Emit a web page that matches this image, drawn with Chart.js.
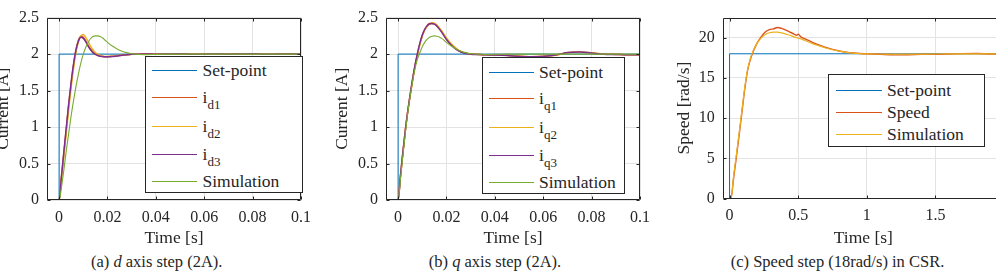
<!DOCTYPE html>
<html>
<head>
<meta charset="utf-8">
<script src="https://cdn.jsdelivr.net/npm/chart.js@4/dist/chart.umd.min.js"></script>
<style>
  html,body{margin:0;padding:0;background:#fff;}
  body{width:996px;height:272px;overflow:hidden;position:relative;font-family:'Liberation Serif',serif;color:#262626;}
  canvas{position:absolute;top:0;}
  .legend{position:absolute;box-sizing:border-box;border:1px solid #262626;background:#fff;}
  .row{position:absolute;left:0;height:20px;width:100%;}
  .sw{position:absolute;height:1px;}
  .lt{position:absolute;top:0;line-height:20px;font-size:17.5px;white-space:nowrap;font-family:'Liberation Serif',serif;}
  .lt sub{font-size:13px;vertical-align:-6px;line-height:0;}
  .cap{position:absolute;top:254px;font-size:16.5px;line-height:16.5px;white-space:nowrap;transform:translateX(-50%);font-family:'Liberation Serif',serif;}
</style>
</head>
<body>
<script>
// ---------------- data ----------------
// (a) d-axis step
const timeA = [-0.005,0,0.001,0.002,0.003,0.004,0.005,0.006,0.007,0.008,0.009,0.010,0.011,0.012,0.013,0.014,0.015,0.016,0.017,0.018,0.019,0.020,0.022,0.024,0.026,0.028,0.030,0.033,0.036,0.040,0.045,0.050,0.055,0.060,0.065,0.070,0.075,0.080,0.085,0.090,0.095,0.100];
const id1 = [0,0,0.32,0.65,0.98,1.31,1.60,1.86,2.06,2.19,2.245,2.23,2.18,2.12,2.07,2.03,2.00,1.985,1.975,1.97,1.965,1.965,1.97,1.978,1.985,1.992,1.997,2.0,2.003,2.0,1.997,2.0,2.004,2.0,1.997,2.002,2.004,1.998,2.0,2.003,1.999,2.0];
const id2 = [0,0,0.30,0.61,0.93,1.25,1.55,1.81,2.03,2.17,2.25,2.27,2.23,2.17,2.11,2.06,2.02,1.995,1.98,1.972,1.968,1.967,1.97,1.977,1.985,1.992,1.997,2.001,1.998,2.002,2.0,1.996,2.001,2.003,1.999,1.997,2.002,2.0,1.998,2.001,2.003,2.0];
const id3 = [0,0,0.33,0.67,1.0,1.33,1.62,1.87,2.06,2.18,2.23,2.215,2.17,2.11,2.06,2.02,1.995,1.98,1.97,1.965,1.962,1.962,1.966,1.975,1.984,1.991,1.996,1.999,2.002,1.998,2.001,2.003,1.997,2.0,2.002,1.999,2.001,2.003,1.998,2.0,2.002,1.999];
const simA = [0,0,0.18,0.42,0.68,0.92,1.16,1.37,1.56,1.73,1.88,2.0,2.09,2.16,2.21,2.24,2.25,2.25,2.24,2.22,2.19,2.16,2.11,2.07,2.04,2.02,2.005,1.995,1.993,1.996,1.999,2.0,2.0,2.0,2.0,2.0,2.0,2.0,2.0,2.0,2.0,2.0];
const setTimeA = [-0.005,0,0,0.1];
const setValA = [0,0,2,2];

// (b) q-axis step
const timeB = [-0.005,0,0.001,0.002,0.003,0.004,0.005,0.006,0.007,0.008,0.009,0.010,0.011,0.012,0.013,0.014,0.015,0.016,0.017,0.018,0.019,0.020,0.022,0.024,0.026,0.028,0.030,0.033,0.036,0.040,0.045,0.050,0.055,0.060,0.065,0.070,0.075,0.080,0.085,0.090,0.095,0.100];
const iq1 = [0,0,0.34,0.66,0.96,1.22,1.44,1.65,1.84,2.0,2.14,2.25,2.33,2.38,2.41,2.42,2.415,2.39,2.35,2.31,2.26,2.21,2.13,2.07,2.03,2.01,2.0,1.995,1.99,1.99,1.985,1.972,1.965,1.97,1.985,2.02,2.028,2.015,2.0,1.995,1.99,1.99];
const iq2 = [0,0,0.33,0.65,0.95,1.21,1.43,1.64,1.83,1.99,2.13,2.25,2.33,2.39,2.42,2.43,2.425,2.40,2.36,2.32,2.27,2.22,2.14,2.08,2.035,2.012,2.002,1.997,1.992,1.99,1.983,1.97,1.963,1.968,1.988,2.018,2.03,2.017,2.002,1.996,1.992,1.991];
const iq3 = [0,0,0.34,0.66,0.96,1.22,1.45,1.66,1.85,2.01,2.15,2.26,2.34,2.39,2.415,2.42,2.41,2.385,2.345,2.30,2.25,2.20,2.12,2.065,2.028,2.008,1.999,1.994,1.99,1.988,1.982,1.968,1.962,1.968,1.986,2.022,2.03,2.014,1.999,1.994,1.99,1.99];
const simB = [0,0,0.3,0.62,0.92,1.2,1.43,1.63,1.8,1.93,2.02,2.1,2.16,2.2,2.23,2.245,2.25,2.245,2.235,2.215,2.19,2.16,2.11,2.07,2.04,2.02,2.005,1.997,1.995,1.997,2.0,2.0,2.0,2.0,2.0,2.0,2.0,2.0,2.0,2.0,2.0,2.0];
const setTimeB = [-0.005,0,0,0.1];
const setValB = [0,0,2,2];

// (c) speed step
const timeC = [0,0.01,0.03,0.05,0.07,0.09,0.11,0.13,0.15,0.17,0.2,0.23,0.26,0.29,0.32,0.35,0.38,0.41,0.44,0.47,0.49,0.5,0.52,0.55,0.6,0.65,0.7,0.75,0.8,0.85,0.9,0.95,1.0,1.1,1.2,1.3,1.4,1.5,1.6,1.7,1.8,1.9,2.0];
const speed = [0,0,2.6,5.2,7.9,10.7,13.5,15.8,17.2,18.2,19.3,20.1,20.7,21.0,21.1,21.27,21.15,20.95,20.7,20.45,20.3,20.45,20.1,19.85,19.45,19.1,18.8,18.55,18.35,18.2,18.1,18.03,18.0,17.93,17.87,17.88,17.92,17.93,17.97,18.02,18.03,17.97,17.95];
const simC = [0,0,2.9,5.5,8.2,11.0,13.7,15.9,17.3,18.3,19.3,19.95,20.4,20.62,20.7,20.7,20.6,20.45,20.3,20.1,20.0,19.95,19.85,19.65,19.3,19.0,18.72,18.5,18.32,18.18,18.08,18.03,18.0,17.97,17.95,17.95,17.96,17.97,17.98,17.99,18.0,18.0,18.0];
const setTimeC = [0,0,2.0];
const setValC = [0,18,18];

// ticks
const xTicksAB = [0,0.02,0.04,0.06,0.08,0.1];
const xLabelsAB = ['0','0.02','0.04','0.06','0.08','0.1'];
const yTicksAB = [0,0.5,1,1.5,2,2.5];
const yLabelsAB = ['0','0.5','1','1.5','2','2.5'];
const xTicksC = [0,0.5,1,1.5,2];
const xLabelsC = ['0','0.5','1','1.5','2'];
const yTicksC = [0,5,10,15,20];
const yLabelsC = ['0','5','10','15','20'];

// labels
const namesA = ['Set-point','i_{d1}','i_{d2}','i_{d3}','Simulation'];
const namesB = ['Set-point','i_{q1}','i_{q2}','i_{q3}','Simulation'];
const namesC = ['Set-point','Speed','Simulation'];

// ---------------- drawing ----------------
const FONT = "'Liberation Serif', serif";
const INK = '#262626';
const C_BLUE='#0072BD', C_ORANGE='#D95319', C_YELLOW='#EDB120', C_PURPLE='#7E2F8E', C_GREEN='#77AC30';
Chart.defaults.font.family = FONT;
Chart.defaults.font.weight = 'normal';
Chart.defaults.font.style = 'normal';
Chart.defaults.color = INK;

const boxPlugin = {
  id:'box',
  afterDatasetsDraw(chart){
    const {ctx, chartArea:a, scales} = chart;
    ctx.save();
    ctx.strokeStyle = INK; ctx.lineWidth = 1;
    const L=Math.round(a.left)+0.5, R=Math.round(a.right)-0.5, T=Math.round(a.top)+0.5, B=Math.round(a.bottom)-0.5;
    ctx.beginPath();
    ctx.rect(L,T,R-L,B-T);
    const tl = 3;
    scales.x.ticks.forEach(t=>{
      const px = Math.round(scales.x.getPixelForValue(t.value))+0.5;
      ctx.moveTo(px,B); ctx.lineTo(px,B-tl);
      ctx.moveTo(px,T); ctx.lineTo(px,T+tl);
    });
    scales.y.ticks.forEach(t=>{
      const py = Math.round(scales.y.getPixelForValue(t.value))+0.5;
      ctx.moveTo(L,py); ctx.lineTo(L+tl,py);
      ctx.moveTo(R,py); ctx.lineTo(R-tl,py);
    });
    ctx.stroke();
    ctx.restore();
  }
};

function subHTML(s){
  return s.replace(/_\{([^}]*)\}/g,'<sub>$1</sub>');
}

function panel(o){
  const cv = document.createElement('canvas');
  cv.width = o.w; cv.height = o.h;
  cv.style.left = o.left+'px';
  cv.style.width = o.w+'px'; cv.style.height = o.h+'px';
  document.body.appendChild(cv);
  const n = o.series.length;
  const datasets = o.series.map((s,i)=>({
    label:s.label,
    data:s.x.map((x,k)=>({x:x,y:s.y[k]})),
    borderColor:s.color,
    backgroundColor:s.color,
    borderWidth:s.width,
    pointRadius:0,
    fill:false,
    tension:0,
    cubicInterpolationMode: s.smooth ? 'monotone' : 'default',
    order: n-i
  }));
  const tickFont = {family:FONT,size:16,weight:'normal',style:'normal'};
  const titleFont = {family:FONT,size:17.5,weight:'normal',style:'normal'};
  new Chart(cv,{
    type:'line',
    data:{datasets},
    options:{
      responsive:false, animation:false,
      layout:{padding:{top:o.padTop,right:o.padRight,bottom:0,left:0}},
      plugins:{legend:{display:false},tooltip:{enabled:false}},
      scales:{
        x:{type:'linear',min:o.xMin,max:o.xMax,
          afterBuildTicks:s=>{s.ticks=o.xTicks.map(v=>({value:v}));},
          afterFit:s=>{s.height=o.xAxisH;},
          ticks:{font:tickFont,color:INK,padding:8,autoSkip:false,maxRotation:0,
                 callback:(v,i)=>o.xLabels[i]},
          grid:{color:'#e3e3e3',drawTicks:false,lineWidth:1},
          border:{display:false},
          title:{display:true,text:'Time [s]',font:titleFont,color:INK,padding:{top:0,bottom:1}}
        },
        y:{type:'linear',min:o.yMin,max:o.yMax,
          afterBuildTicks:s=>{s.ticks=o.yTicks.map(v=>({value:v}));},
          afterFit:s=>{s.width=o.yAxisW;},
          ticks:{font:tickFont,color:INK,padding:8,autoSkip:false,
                 callback:(v,i)=>o.yLabels[i]},
          grid:{color:'#e3e3e3',drawTicks:false,lineWidth:1},
          border:{display:false},
          title:{display:true,text:o.yTitle,font:titleFont,color:INK,padding:{top:4,bottom:4}}
        }
      }
    },
    plugins:[boxPlugin]
  });

  // legend built from the series
  const lg = document.createElement('div');
  lg.className='legend';
  lg.style.left=o.lg.left+'px'; lg.style.top=o.lg.top+'px';
  lg.style.width=o.lg.w+'px'; lg.style.height=o.lg.h+'px';
  o.series.forEach((s,i)=>{
    const row = document.createElement('div');
    row.className='row';
    row.style.top=(o.lg.rows[i]-10)+'px';
    const sw = document.createElement('div');
    sw.className='sw';
    sw.style.left=o.lg.swX+'px'; sw.style.width=o.lg.swW+'px';
    sw.style.top='10px';
    sw.style.background=s.color;
    const tx = document.createElement('span');
    tx.className='lt';
    tx.style.left=o.lg.txX+'px';
    tx.innerHTML=subHTML(s.label);
    row.appendChild(sw); row.appendChild(tx);
    lg.appendChild(row);
  });
  document.body.appendChild(lg);

  const cap = document.createElement('div');
  cap.className='cap';
  cap.style.left=o.capX+'px';
  cap.innerHTML=o.caption;
  document.body.appendChild(cap);
}

panel({
  left:-11.3, w:330, h:250, padTop:10, padRight:15.7, yAxisW:58, xAxisH:50,
  xMin:-0.005, xMax:0.1, yMin:0, yMax:2.5,
  xTicks:xTicksAB, xLabels:xLabelsAB, yTicks:yTicksAB, yLabels:yLabelsAB,
  yTitle:'Current [A]',
  series:[
    {label:namesA[0], x:setTimeA, y:setValA, color:C_BLUE, width:1},
    {label:namesA[1], x:timeA, y:id1, color:C_ORANGE, width:1.5, smooth:true},
    {label:namesA[2], x:timeA, y:id2, color:C_YELLOW, width:1.5, smooth:true},
    {label:namesA[3], x:timeA, y:id3, color:C_PURPLE, width:1.5, smooth:true},
    {label:namesA[4], x:timeA, y:simA, color:C_GREEN, width:1.1, smooth:true}
  ],
  lg:{left:145, top:56, w:158, h:137, swX:6, swW:45, txX:56.5, rows:[13,40,69,97,124]},
  capX:156.7, caption:'(a) <i>d</i> axis step (2A).'
});

panel({
  left:328, w:330, h:250, padTop:10, padRight:14.7, yAxisW:58, xAxisH:50,
  xMin:-0.005, xMax:0.1, yMin:0, yMax:2.5,
  xTicks:xTicksAB, xLabels:xLabelsAB, yTicks:yTicksAB, yLabels:yLabelsAB,
  yTitle:'Current [A]',
  series:[
    {label:namesB[0], x:setTimeB, y:setValB, color:C_BLUE, width:1},
    {label:namesB[1], x:timeB, y:iq1, color:C_ORANGE, width:1.5, smooth:true},
    {label:namesB[2], x:timeB, y:iq2, color:C_YELLOW, width:1.5, smooth:true},
    {label:namesB[3], x:timeB, y:iq3, color:C_PURPLE, width:1.5, smooth:true},
    {label:namesB[4], x:timeB, y:simB, color:C_GREEN, width:1.1, smooth:true}
  ],
  lg:{left:482, top:57, w:143, h:137, swX:6, swW:45, txX:56, rows:[14,40,69,97,124]},
  capX:495, caption:'(b) <i>q</i> axis step (2A).'
});

panel({
  left:670.3, w:346, h:250, padTop:3.5, padRight:10.3, yAxisW:52.7, xAxisH:51.5,
  xMin:-0.05, xMax:2.0, yMin:0, yMax:22.5,
  xTicks:xTicksC, xLabels:xLabelsC, yTicks:yTicksC, yLabels:yLabelsC,
  yTitle:'Speed [rad/s]',
  series:[
    {label:namesC[0], x:setTimeC, y:setValC, color:C_BLUE, width:1},
    {label:namesC[1], x:timeC, y:speed, color:C_ORANGE, width:1.4, smooth:true},
    {label:namesC[2], x:timeC, y:simC, color:C_YELLOW, width:1.2, smooth:true}
  ],
  lg:{left:828, top:74, w:157, h:73, swX:6.5, swW:46, txX:58, rows:[15,37,59]},
  capX:837.5, caption:'(c) Speed step (18rad/s) in CSR.'
});
</script>
</body>
</html>
